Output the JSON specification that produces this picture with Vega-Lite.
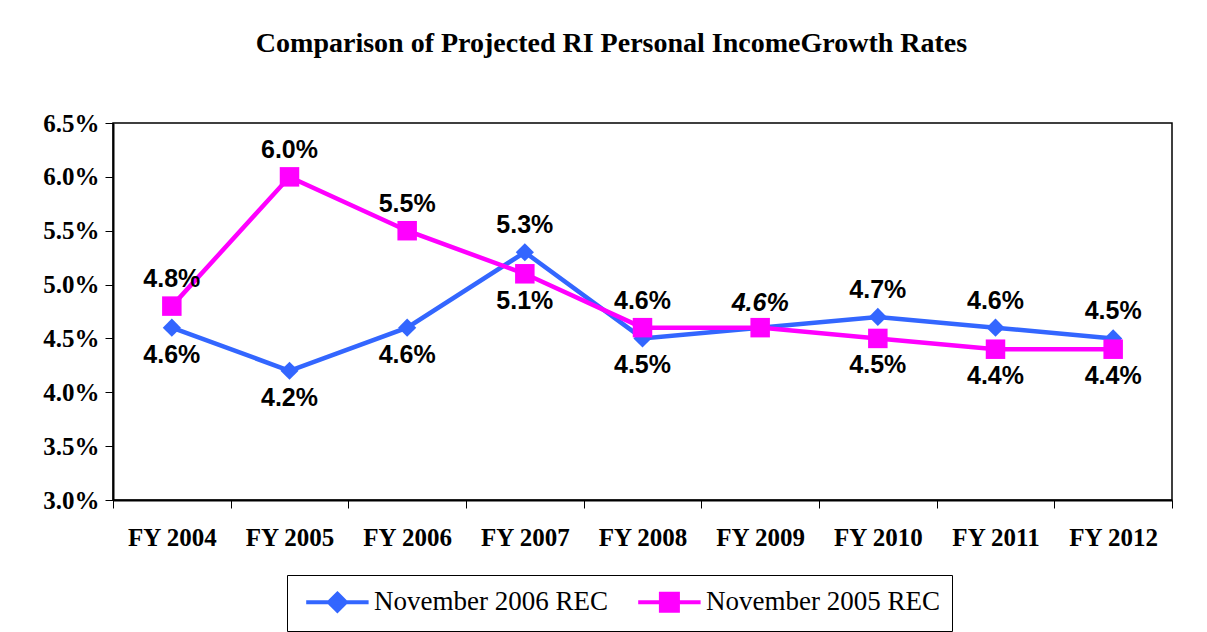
{
  "$schema": "https://vega.github.io/schema/vega-lite/v6.json",
  "width": 1059,
  "height": 377,
  "autosize": {"type": "none"},
  "padding": {"left": 113, "top": 123, "right": 35, "bottom": 132},
  "background": "white",
  "config": {
    "view": {"stroke": "#000", "strokeWidth": 1.5},
    "font": "Liberation Sans"
  },
  "title": {
    "text": "Comparison of Projected RI Personal IncomeGrowth Rates",
    "font": "Liberation Serif",
    "fontSize": 28,
    "fontWeight": "bold",
    "color": "#000",
    "anchor": "middle",
    "dx": -31,
    "baseline": "alphabetic",
    "offset": 31
  },
  "data": {
    "values": [
      {"year": "FY 2004", "series": "November 2006 REC", "rate": 0.046},
      {"year": "FY 2005", "series": "November 2006 REC", "rate": 0.042},
      {"year": "FY 2006", "series": "November 2006 REC", "rate": 0.046},
      {"year": "FY 2007", "series": "November 2006 REC", "rate": 0.053},
      {"year": "FY 2008", "series": "November 2006 REC", "rate": 0.045},
      {"year": "FY 2009", "series": "November 2006 REC", "rate": 0.046},
      {"year": "FY 2010", "series": "November 2006 REC", "rate": 0.047},
      {"year": "FY 2011", "series": "November 2006 REC", "rate": 0.046},
      {"year": "FY 2012", "series": "November 2006 REC", "rate": 0.045},
      {"year": "FY 2004", "series": "November 2005 REC", "rate": 0.048},
      {"year": "FY 2005", "series": "November 2005 REC", "rate": 0.060},
      {"year": "FY 2006", "series": "November 2005 REC", "rate": 0.055},
      {"year": "FY 2007", "series": "November 2005 REC", "rate": 0.051},
      {"year": "FY 2008", "series": "November 2005 REC", "rate": 0.046},
      {"year": "FY 2009", "series": "November 2005 REC", "rate": 0.046},
      {"year": "FY 2010", "series": "November 2005 REC", "rate": 0.045},
      {"year": "FY 2011", "series": "November 2005 REC", "rate": 0.044},
      {"year": "FY 2012", "series": "November 2005 REC", "rate": 0.044}
    ]
  },
  "encoding": {
    "x": {
      "field": "year",
      "type": "nominal",
      "sort": null,
      "scale": {"type": "band", "paddingInner": 0, "paddingOuter": 0},
      "axis": {
        "title": null,
        "labelAngle": 0,
        "labelFont": "Liberation Serif",
        "labelFontSize": 25,
        "labelFontWeight": "bold",
        "labelColor": "#000",
        "labelPadding": 29,
        "labelBaseline": "middle",
        "tickBand": "extent",
        "tickSize": 8,
        "tickColor": "#000",
        "tickWidth": 1,
        "domainColor": "#000",
        "domainWidth": 2,
        "grid": false
      }
    },
    "y": {
      "field": "rate",
      "type": "quantitative",
      "scale": {"domain": [0.03, 0.065], "nice": false, "zero": false},
      "axis": {
        "title": null,
        "values": [0.03, 0.035, 0.04, 0.045, 0.05, 0.055, 0.06, 0.065],
        "format": ".1%",
        "labelFont": "Liberation Serif",
        "labelFontSize": 25,
        "labelFontWeight": "bold",
        "labelColor": "#000",
        "labelPadding": 6,
        "tickSize": 8,
        "tickColor": "#000",
        "domainColor": "#000",
        "domainWidth": 2,
        "grid": false
      }
    },
    "color": {
      "field": "series",
      "type": "nominal",
      "scale": {"domain": ["November 2006 REC", "November 2005 REC"], "range": ["#3366FF", "#FF00FF"]},
      "legend": {
        "title": null,
        "orient": "none",
        "legendX": 174,
        "legendY": 452,
        "direction": "horizontal",
        "strokeColor": "#000",
        "fillColor": "white",
        "padding": 12,
        "labelFont": "Liberation Serif",
        "labelFontSize": 27,
        "labelColor": "#000",
        "labelOffset": 45,
        "labelLimit": 400,
        "symbolSize": 676,
        "symbolStrokeWidth": 4,
        "symbolOpacity": 1,
        "columnPadding": 22,
        "encode": {
          "symbols": {
            "update": {
              "shape": {"signal": "datum.value == 'November 2006 REC' ? 'M-0.6,0L4.2,0M1.8,-0.654L2.454,0L1.8,0.654L1.146,0Z' : 'M-0.6,0L4.2,0M1.146,-0.654L2.454,-0.654L2.454,0.654L1.146,0.654Z'"},
              "fill": {"signal": "datum.value == 'November 2006 REC' ? '#3366FF' : '#FF00FF'"},
              "stroke": {"signal": "datum.value == 'November 2006 REC' ? '#3366FF' : '#FF00FF'"},
              "strokeWidth": {"value": 4},
              "opacity": {"value": 1}
            }
          }
        }
      }
    }
  },
  "layer": [
    {"mark": {"type": "line", "strokeWidth": 4.5}},
    {
      "transform": [{"filter": "datum.series == 'November 2006 REC'"}],
      "mark": {"type": "point", "filled": true, "opacity": 1, "shape": "diamond", "size": 330, "color": "#3366FF"},
      "encoding": {"color": {"value": "#3366FF"}}
    },
    {
      "transform": [{"filter": "datum.series == 'November 2005 REC'"}],
      "mark": {"type": "point", "filled": true, "opacity": 1, "shape": "square", "size": 380, "color": "#FF00FF"},
      "encoding": {"color": {"value": "#FF00FF"}}
    },
    {
      "transform": [{"filter": "(datum.series == 'November 2006 REC' && indexof(['FY 2007','FY 2010','FY 2011','FY 2012'], datum.year) >= 0) || (datum.series == 'November 2005 REC' && indexof(['FY 2004','FY 2005','FY 2006','FY 2008'], datum.year) >= 0)"}],
      "mark": {"type": "text", "font": "Liberation Sans", "fontSize": 25, "fontWeight": "bold", "baseline": "middle", "dy": -27},
      "encoding": {"text": {"field": "rate", "type": "quantitative", "format": ".1%"}, "color": {"value": "#000"}}
    },
    {
      "transform": [{"filter": "(datum.series == 'November 2006 REC' && indexof(['FY 2004','FY 2005','FY 2006','FY 2008'], datum.year) >= 0) || (datum.series == 'November 2005 REC' && indexof(['FY 2007','FY 2010','FY 2011','FY 2012'], datum.year) >= 0)"}],
      "mark": {"type": "text", "font": "Liberation Sans", "fontSize": 25, "fontWeight": "bold", "baseline": "middle", "dy": 27},
      "encoding": {"text": {"field": "rate", "type": "quantitative", "format": ".1%"}, "color": {"value": "#000"}}
    },
    {
      "transform": [{"filter": "datum.series == 'November 2005 REC' && datum.year == 'FY 2009'"}],
      "mark": {"type": "text", "font": "Liberation Sans", "fontSize": 25, "fontWeight": "bold", "fontStyle": "italic", "baseline": "middle", "dy": -25},
      "encoding": {"text": {"field": "rate", "type": "quantitative", "format": ".1%"}, "color": {"value": "#000"}}
    }
  ]
}
